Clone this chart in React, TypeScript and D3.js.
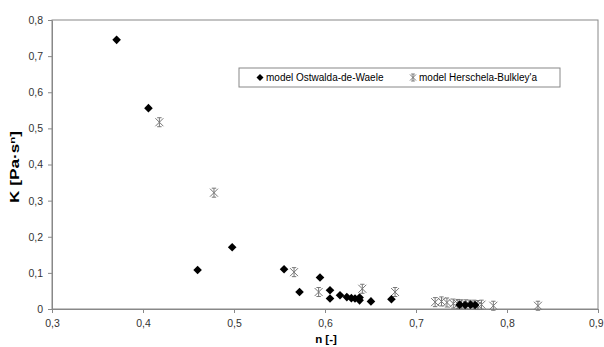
import React, { useRef, useEffect } from 'react';
import { select, scaleLinear, axisBottom, axisLeft, format } from 'd3';

// model Ostwalda-de-Waele: [n, K]
const ostwaldN = [0.371, 0.406, 0.46, 0.498, 0.555, 0.572, 0.5945, 0.6055, 0.6055, 0.6165, 0.624, 0.629, 0.633, 0.638, 0.638, 0.6505, 0.673, 0.748, 0.754, 0.76, 0.765];
const ostwaldK = [0.745, 0.556, 0.108, 0.171, 0.11, 0.047, 0.087, 0.052, 0.029, 0.038, 0.033, 0.03, 0.029, 0.032, 0.024, 0.021, 0.027, 0.012, 0.011, 0.012, 0.011];

// model Herschela-Bulkley'a: [n, K]
const herschelN = [0.418, 0.478, 0.566, 0.593, 0.641, 0.677, 0.721, 0.728, 0.734, 0.741, 0.746, 0.75, 0.755, 0.759, 0.764, 0.768, 0.772, 0.785, 0.834];
const herschelK = [0.517, 0.322, 0.102, 0.047, 0.056, 0.047, 0.019, 0.021, 0.018, 0.015, 0.014, 0.013, 0.013, 0.012, 0.012, 0.011, 0.012, 0.009, 0.009];

const xTicks = [0.3, 0.4, 0.5, 0.6, 0.7, 0.8, 0.9];
const yTicks = [0, 0.1, 0.2, 0.3, 0.4, 0.5, 0.6, 0.7, 0.8];

const legendLabels = ['model Ostwalda-de-Waele', "model Herschela-Bulkley'a"];

const width = 604;
const height = 347;
const margin = { top: 20, right: 6, bottom: 38, left: 52 };

const App = () => {
  const svgRef = useRef(null);

  useEffect(() => {
    const svg = select(svgRef.current);
    const innerW = width - margin.left - margin.right;
    const innerH = height - margin.top - margin.bottom;

    const xScale = scaleLinear().domain([0.3, 0.9]).range([0, innerW]);
    const yScale = scaleLinear().domain([0, 0.8]).range([innerH, 0]);
    const fmt = d => (d === 0 ? '0' : format('.1f')(d).replace('.', ','));

    const g = svg.select('.plot').attr('transform', `translate(${margin.left},${margin.top})`);

    g.select('.frame')
      .attr('width', innerW)
      .attr('height', innerH)
      .attr('fill', 'none')
      .attr('stroke', '#888');

    const xAxis = axisBottom(xScale).tickValues(xTicks).tickFormat(fmt).tickSize(4).tickSizeOuter(0);
    const yAxis = axisLeft(yScale).tickValues(yTicks).tickFormat(fmt).tickSize(4).tickSizeOuter(0);

    g.select('.x-axis').attr('transform', `translate(0, ${innerH})`).call(xAxis);
    g.select('.y-axis').call(yAxis);

    g.selectAll('.x-axis, .y-axis').selectAll('path, line').attr('stroke', '#888');
    g.selectAll('.x-axis, .y-axis')
      .selectAll('text')
      .attr('fill', '#333')
      .attr('font-size', 10.5)
      .attr('font-family', 'Arial, Liberation Sans, sans-serif');
    g.select('.x-axis').selectAll('text').attr('dy', '1.05em');
    // last label sits at the window edge; keep it inside
    g.select('.x-axis')
      .selectAll('text')
      .filter(d => d === 0.9)
      .attr('text-anchor', 'end')
      .attr('x', 5);
    g.select('.y-axis').selectAll('text').attr('dx', '-2');

    const ostwald = ostwaldN.map((n, i) => ({ n, k: ostwaldK[i] }));
    const herschel = herschelN.map((n, i) => ({ n, k: herschelK[i] }));

    const star = 'M-4,-4L4,4M-4,4L4,-4M0,-4.5L0,4.5M-2.2,-4.5L2.2,-4.5M-2.2,4.5L2.2,4.5';
    const diamond = 'M0,-4.3L4.3,0L0,4.3L-4.3,0Z';

    g.select('.herschel')
      .selectAll('path')
      .data(herschel)
      .join('path')
      .attr('transform', d => `translate(${xScale(d.n)},${yScale(d.k)})`)
      .attr('d', star)
      .attr('fill', 'none')
      .attr('stroke', '#777')
      .attr('stroke-width', 1);

    g.select('.ostwald')
      .selectAll('path')
      .data(ostwald)
      .join('path')
      .attr('transform', d => `translate(${xScale(d.n)},${yScale(d.k)})`)
      .attr('d', diamond)
      .attr('fill', '#000');

    // legend
    const legend = svg.select('.legend').attr('transform', 'translate(239,68)');
    legend
      .select('rect')
      .attr('width', 321)
      .attr('height', 19)
      .attr('fill', '#fff')
      .attr('stroke', '#888');
    const items = legend
      .selectAll('.item')
      .data(legendLabels)
      .join('g')
      .attr('class', 'item')
      .attr('transform', (d, i) => `translate(${i === 0 ? 21 : 174},9.5)`);
    items
      .selectAll('path')
      .data((d, i) => [i])
      .join('path')
      .attr('d', i => (i === 0 ? 'M0,-3.5L3.5,0L0,3.5L-3.5,0Z' : 'M-3,-3L3,3M-3,3L3,-3M0,-3.5L0,3.5M-1.8,-3.5L1.8,-3.5M-1.8,3.5L1.8,3.5'))
      .attr('fill', i => (i === 0 ? '#000' : 'none'))
      .attr('stroke', i => (i === 0 ? 'none' : '#777'));
    items
      .selectAll('text')
      .data(d => [d])
      .join('text')
      .attr('x', 6)
      .attr('dy', '0.35em')
      .attr('font-size', 10)
      .attr('font-family', 'Arial, Liberation Sans, sans-serif')
      .attr('fill', '#000')
      .text(d => d);
  }, []);

  return (
    <svg
      ref={svgRef}
      width={width}
      height={height}
      style={{ display: 'block', position: 'absolute', left: 0, top: 0 }}
    >
      <rect width={width} height={height} fill="#fff" />
      <g className="plot">
        <rect className="frame" />
        <g className="x-axis" />
        <g className="y-axis" />
        <g className="herschel" />
        <g className="ostwald" />
      </g>
      <g className="legend">
        <rect />
      </g>
      <text
        transform="translate(19,167) rotate(-90)"
        textAnchor="middle"
        fontSize={12}
        fontWeight="bold"
        fontFamily="Arial, Liberation Sans, sans-serif"
        textLength={72}
        lengthAdjust="spacingAndGlyphs"
      >
        K [Pa·s<tspan dy={-4} fontSize={8}>n</tspan>
        <tspan dy={4}>]</tspan>
      </text>
      <text
        x={326}
        y={343}
        textAnchor="middle"
        fontSize={11.5}
        fontWeight="bold"
        fontFamily="Arial, Liberation Sans, sans-serif"
      >
        n [-]
      </text>
    </svg>
  );
};

export default App;
